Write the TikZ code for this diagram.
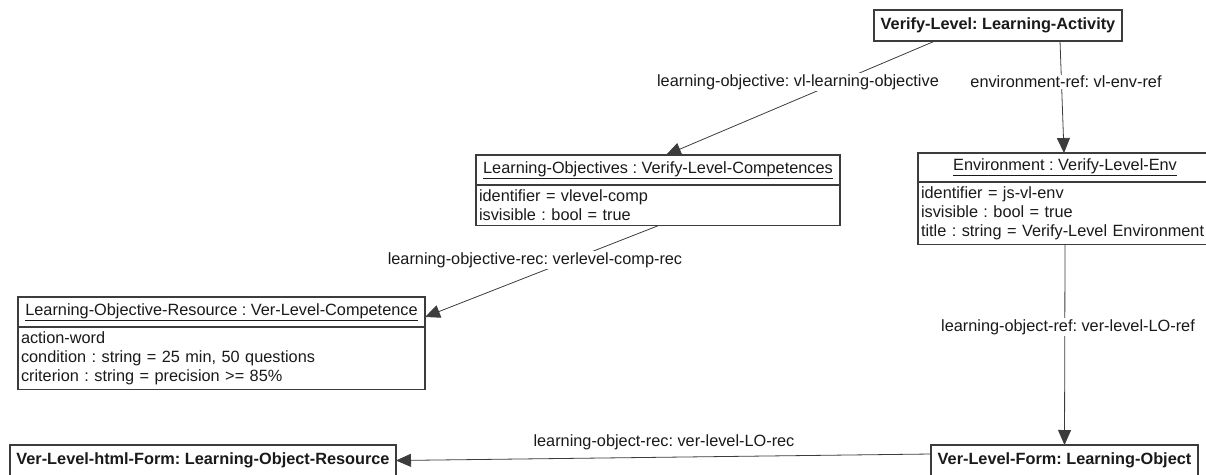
\documentclass[tikz,border=0pt]{standalone}
\usepackage{fontspec}
\setmainfont{Liberation Sans}
\usetikzlibrary{arrows.meta,positioning}
\definecolor{umlline}{HTML}{3C3C3C}
\definecolor{umltext}{HTML}{1A1A1A}
\frenchspacing
\begin{document}
\begin{tikzpicture}[x=1pt, y=-1pt, % object diagram
    every node/.style={font=\fontsize{16.3}{18.8}\selectfont, text=umltext, outer sep=0pt},
    obj/.style={draw=umlline, line width=1.3pt, fill=white, inner sep=2pt, minimum height=31pt},
    head/.style={draw=umlline, line width=1.3pt, fill=white, inner sep=2pt, minimum height=30pt},
    attrs/.style={draw=umlline, line width=1.3pt, fill=white, inner xsep=3pt, inner ysep=5pt, align=left},
    link/.style={draw=umlline, line width=0.8pt, -{Triangle[length=15pt,width=13pt]}},
    role/.style={fill=white, inner sep=1pt}]
  \useasboundingbox (0,0) rectangle (1206,474);
  \node[obj, minimum width=248pt] (act) at (998,25.5) {\bfseries Verify-Level: Learning-Activity};
  \node[head, minimum width=364pt] (lo) at (658,170) {\underline{Learning-Objectives : Verify-Level-Competences}};
  \node[attrs, text width=358pt, below=0pt of lo] (loattr) {identifier = vlevel-comp\\isvisible : bool = true};
  \node[head, minimum width=294pt, minimum height=29pt] (env) at (1065,167.5) {\underline{Environment : Verify-Level-Env}};
  \node[attrs, text width=288pt, below=0pt of env] (envattr) {identifier = js-vl-env\\isvisible : bool = true\\title : string = Verify-Level Environment};
  \node[head, minimum width=407pt] (lor) at (221.5,312) {\underline{Learning-Objective-Resource : Ver-Level-Competence}};
  \node[attrs, text width=401pt, below=0pt of lor] (lorattr) {action-word\\condition : string = 25 min, 50 questions\\criterion : string = precision >= 85\%};
  \node[obj, minimum width=267pt] (form) at (1064.5,460.5) {\bfseries Ver-Level-Form: Learning-Object};
  \node[obj, minimum width=386pt] (html) at (203,460.5) {\bfseries Ver-Level-html-Form: Learning-Object-Resource};

  \draw[link] ([xshift=-63pt]act.south) -- ([xshift=8pt]lo.north);
  \draw[link] ([xshift=62pt]act.south) -- ([xshift=-1pt]env.north);
  \draw[link] (loattr.south) -- ([yshift=-5pt]lor.east);
  \draw[link] (envattr.south) -- (form.north);
  \draw[link] ([yshift=6.5pt]form.west) -- (html.east);

  \node[role] (objref) at (798,82) {learning-objective: vl-learning-objective};
  \node[role] (envref) at (1066,82) {environment-ref: vl-env-ref};
  \node[role] (objrec) at (535,260) {learning-objective-rec: verlevel-comp-rec};
  \node[role] (loref) at (1068,327) {learning-object-ref: ver-level-LO-ref};
  \node[role] (lorec) at (664,442) {learning-object-rec: ver-level-LO-rec};
\end{tikzpicture}
\end{document}
